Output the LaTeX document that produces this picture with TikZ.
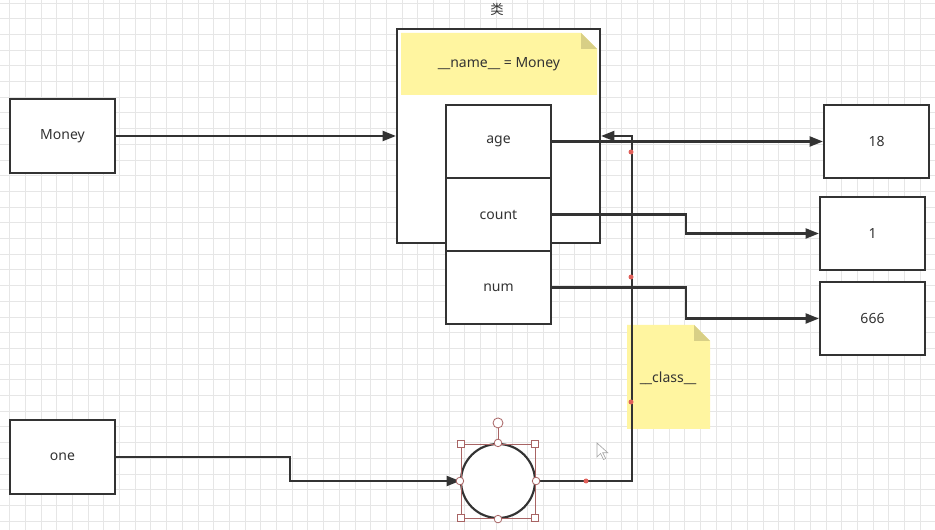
\documentclass[tikz,border=0pt]{standalone}
\usepackage{fontspec}
\setmainfont{Noto Sans}
\newfontfamily\cjk{Noto Sans CJK SC}
\usepackage{xcolor}
\definecolor{lineclr}{HTML}{333333}
\definecolor{notefill}{HTML}{FFF5A0}
\definecolor{notefold}{HTML}{D8CF86}
\definecolor{gridclr}{HTML}{E6E6E6}
\definecolor{handleclr}{HTML}{A86464}
\definecolor{wayptclr}{HTML}{E0605A}
\usetikzlibrary{arrows.meta,calc}
\tikzset{
  vbox/.style   ={rectangle, draw=lineclr, line width=1.6pt, fill=white, text=lineclr,
                  minimum width=78.75pt, minimum height=54.75pt, inner sep=0pt,
                  font=\fontsize{10.5}{12}\selectfont},
  clsbox/.style ={rectangle, draw=lineclr, line width=1.6pt, fill=white,
                  minimum width=152.25pt, minimum height=160.5pt},
  objcirc/.style={circle, draw=lineclr, line width=1.6pt, fill=white, minimum size=55.5pt},
  notetext/.style={text=lineclr, inner sep=1pt, font=\fontsize{10.5}{12}\selectfont},
  arr/.style    ={-{Triangle[length=10pt,width=7.5pt]}, line width=1.6pt, draw=lineclr},
  handle/.style ={draw=handleclr, line width=0.6pt},
}
% yellow note with folded corner: x1,y1,x2,y2
\newcommand{\notebox}[4]{%
  \fill[notefill] (#1,#2) -- (#3-16,#2) -- (#3,#2+16) -- (#3,#4) -- (#1,#4) -- cycle;
  \fill[notefold] (#3-16,#2) -- (#3-16,#2+16) -- (#3,#2+16) -- cycle;}

\begin{document}
\begin{tikzpicture}[x=0.75pt,y=-0.75pt]
  \useasboundingbox (0,0) rectangle (935,530);
  \fill[white] (0,0) rectangle (935,530);
  % grid
  \foreach \i in {0,...,59} \draw[gridclr, line width=0.6pt] (9.5+15.7*\i,0) -- ++(0,530);
  \foreach \j in {0,...,33} \draw[gridclr, line width=0.6pt] (0,3+15.7*\j) -- ++(935,0);

  % class
  \node[clsbox] (cls) at (498.5,136) {};
  \node[text=lineclr, font=\fontsize{10}{12}\selectfont\cjk] (clslabel) at (497,9) {类};
  \notebox{401}{33}{597}{95}
  \node[notetext] (namenote) at (499,64) {\_\_name\_\_ = Money};
  \node[vbox] (age) at (498.5,141.5) {age};
  \node[vbox] (count) at (498.5,214.5) {count};
  \node[vbox] (num) at (498.5,287.5) {num};

  % values
  \node[vbox] (v18) at (876.5,141.5) {18};
  \node[vbox] (v1) at (872.5,233.5) {1};
  \node[vbox] (v666) at (872.5,318.5) {666};

  % variables
  \node[vbox, minimum height=55.5pt] (money) at (62.5,136) {Money};
  \node[vbox, minimum height=55.5pt] (one) at (62.5,457) {one};
  \node[objcirc] (obj) at (498,481) {};

  \notebox{627}{325}{710}{429}
  \node[notetext] (classnote) at (668,378) {\_\_class\_\_};

  % connectors
  \draw[arr] (money) -- (cls);
  \draw[arr] (age) -- (v18);
  \draw[arr] (count.east) -- ++(134,0) |- (v1.west);
  \draw[arr] (num.east) -- ++(134,0) |- (v666.west);
  \draw[arr] (one.east) -- ++(174,0) |- (obj.west);
  \draw[arr] (obj.east) -- ++(96,0) |- (cls.east);

  % waypoints
  \foreach \p in {(586,481),(631,402),(631,277),(631,152)}
    \fill[wayptclr] \p circle[radius=2.5];

  % selection handles
  \draw[handle] ($(obj.center)+(-37,-37)$) rectangle ($(obj.center)+(37,37)$);
  \draw[handle] (obj.north) -- ++(0,-15);
  \foreach \dx/\dy in {-37/-37,37/-37,-37/37,37/37}
    \draw[handle, fill=white] ($(obj.center)+(\dx,\dy)$) +(-3.5,-3.5) rectangle +(3.5,3.5);
  \foreach \a in {north,south,east,west}
    \draw[handle, fill=white] (obj.\a) circle[radius=3.8];
  \draw[handle, fill=white] ($(obj.north)+(0,-20)$) circle[radius=5];

  % cursor
  \draw[gray!70, fill=white, line width=0.5pt] (597,443) -- ++(0,14) -- ++(3.5,-3.5)
    -- ++(3,6) -- ++(2.2,-1) -- ++(-3,-5.8) -- ++(5,0) -- cycle;
\end{tikzpicture}
\end{document}
